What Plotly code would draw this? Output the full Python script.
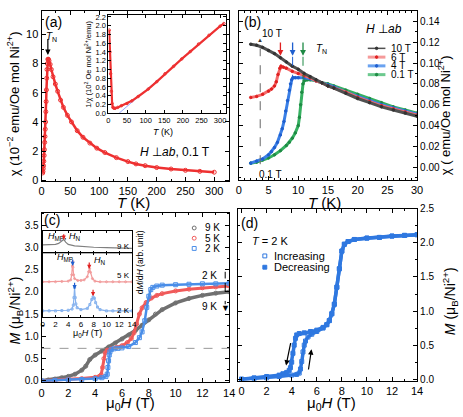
import plotly.graph_objects as go

W, H = 463, 417
def fx(p): return p / W
def fy(p): return 1 - p / H

FONT = "Liberation Sans, Arial, Helvetica, sans-serif"

# ---------------- (a) chi(T), H perp ab, 0.1 T ----------------
T_a = [2, 2.5, 3, 3.5, 4, 4.5, 5, 5.5, 6, 6.5, 7, 7.5, 8, 8.5, 9, 9.5, 10, 11, 12, 13,
       15, 17, 20, 24, 28, 33, 38, 45, 52, 62, 72, 84, 96, 110, 130, 150, 164, 180,
       200, 225, 250, 275, 300]
chi_a = [0.5, 0.6, 0.8, 1.0, 1.3, 1.7, 2.1, 2.6, 3.0, 3.5, 4.0, 4.7, 5.4, 6.2, 7.0, 7.6, 8.0, 8.3, 8.3, 8.2,
         7.95, 7.6, 7.1, 6.6, 6.1, 5.5, 5.0, 4.45, 4.0, 3.4, 2.95, 2.55, 2.2, 1.9, 1.55, 1.28, 1.12, 1.0,
         0.87, 0.77, 0.68, 0.61, 0.55]
# inset: 1/chi
T_inv = [2, 4, 6, 8, 10, 12, 15, 18, 25, 35, 50, 63, 80, 107, 130, 152, 175, 197, 220, 242, 270, 300, 310]
inv_chi = [1.9, 1.4, 0.9, 0.5, 0.22, 0.13, 0.11, 0.11, 0.13, 0.17, 0.22, 0.28, 0.38, 0.55, 0.72, 0.9,
           1.07, 1.24, 1.41, 1.58, 1.78, 1.99, 2.05]
T_fit = [29, 312]
inv_fit = [0.0, 2.07]

# ---------------- (b) chi(T) at several fields ----------------
T_10T = [2, 3, 4, 5, 6, 7, 8, 9, 10, 11, 12, 13, 14, 15, 16, 18, 20, 22, 24, 26, 28, 30]
chi_10T = [0.118, 0.117, 0.115, 0.112, 0.109, 0.105, 0.101, 0.097, 0.094, 0.090, 0.087, 0.084, 0.081,
           0.078, 0.076, 0.071, 0.066, 0.062, 0.058, 0.055, 0.052, 0.049]
T_6T = [2, 3, 4, 5, 5.5, 6, 6.3, 6.6, 6.9, 7.1, 7.5, 8, 9, 10, 11, 12, 13, 14, 15, 16, 18, 20, 22, 24, 26, 28, 30]
chi_6T = [0.067, 0.068, 0.070, 0.073, 0.075, 0.078, 0.082, 0.089, 0.095, 0.097, 0.096, 0.095, 0.092, 0.090,
          0.088, 0.086, 0.083, 0.081, 0.078, 0.076, 0.072, 0.067, 0.063, 0.059, 0.056, 0.053, 0.050]
T_4T = [2, 3, 4, 5, 5.5, 6, 6.5, 7, 7.3, 7.6, 7.9, 8.2, 8.5, 8.7, 8.9, 9.1, 9.5, 10, 11, 12, 13, 14, 15, 16,
        18, 20, 22, 24, 26, 28, 30]
chi_4T = [0.004, 0.006, 0.008, 0.012, 0.015, 0.019, 0.024, 0.031, 0.037, 0.044, 0.054, 0.064, 0.074, 0.080,
          0.084, 0.086, 0.086, 0.086, 0.086, 0.085, 0.083, 0.081, 0.079, 0.077, 0.072, 0.068, 0.064, 0.060,
          0.057, 0.054, 0.051]
T_01T = [2, 3, 4, 5, 6, 7, 8, 8.5, 9, 9.5, 10, 10.2, 10.4, 10.6, 10.8, 11, 11.5, 12, 13, 14, 15, 16, 18, 20,
         22, 24, 26, 28, 30]
chi_01T = [0.004, 0.005, 0.007, 0.009, 0.012, 0.016, 0.021, 0.024, 0.028, 0.033, 0.040, 0.048, 0.060, 0.072,
           0.080, 0.083, 0.084, 0.084, 0.083, 0.081, 0.080, 0.078, 0.074, 0.070, 0.066, 0.062, 0.058, 0.055,
           0.052]

# ---------------- (c) M(H) at 9, 5, 2 K ----------------
H_9K = [0, 0.5, 1, 1.5, 2, 2.5, 3, 3.3, 3.6, 4, 4.5, 5, 5.5, 6, 6.5, 7, 7.5, 8, 8.5, 9, 10, 11, 12, 13, 14]
M_9K = [0, 0.02, 0.04, 0.07, 0.1, 0.15, 0.24, 0.33, 0.48, 0.58, 0.67, 0.76, 0.85, 0.94, 1.03, 1.13, 1.25,
        1.37, 1.5, 1.6, 1.75, 1.85, 1.92, 1.97, 2.0]
H_5K = [0, 1, 2, 3, 4, 4.3, 4.45, 4.55, 4.65, 4.75, 4.9, 5.2, 5.6, 6.0, 6.4, 6.7, 6.9, 7.1, 7.3, 7.5, 7.8,
        8.2, 8.6, 9, 10, 11, 12, 13, 14]
M_5K = [0, 0.015, 0.03, 0.05, 0.08, 0.1, 0.14, 0.3, 0.5, 0.63, 0.69, 0.72, 0.75, 0.79, 0.86, 0.95, 1.08,
        1.28, 1.5, 1.64, 1.76, 1.86, 1.92, 1.96, 2.02, 2.06, 2.09, 2.11, 2.13]
H_2K = [0, 1, 2, 3, 4, 4.5, 4.8, 4.9, 4.95, 5.0, 5.05, 5.1, 5.2, 5.4, 5.7, 6.0, 6.5, 7.0, 7.3, 7.5, 7.7,
        7.85, 8.0, 8.15, 8.3, 8.6, 9, 10, 11, 12, 13, 14]
M_2K = [0, 0.01, 0.02, 0.03, 0.05, 0.07, 0.1, 0.15, 0.3, 0.45, 0.58, 0.65, 0.7, 0.72, 0.73, 0.74, 0.77,
        0.86, 0.97, 1.1, 1.35, 1.65, 1.9, 2.05, 2.1, 2.13, 2.15, 2.16, 2.17, 2.18, 2.18, 2.19]
M_plateau = 0.73

# inset of (c): dM/dH (arb. unit)
H_d9 = [0, 1, 2, 2.5, 3, 3.3, 3.6, 4, 5, 6, 8, 10, 12, 14]
dMdH_9K = [0.38, 0.38, 0.4, 0.44, 0.55, 0.62, 0.5, 0.4, 0.33, 0.3, 0.27, 0.25, 0.23, 0.22]
H_d5 = [0, 1, 2, 3, 4, 4.4, 4.55, 4.65, 4.7, 4.75, 4.85, 5.0, 5.5, 6, 6.5, 7.0, 7.2, 7.35, 7.5, 7.8, 8.2,
        9, 10, 11, 12, 13, 14]
dMdH_5K = [0.55, 0.55, 0.55, 0.555, 0.56, 0.58, 0.66, 0.8, 0.87, 0.78, 0.66, 0.6, 0.57, 0.57, 0.58, 0.63,
           0.71, 0.76, 0.7, 0.6, 0.56, 0.55, 0.55, 0.55, 0.55, 0.55, 0.55]
H_d2 = [0, 1, 2, 3, 4, 4.6, 4.8, 4.9, 5.0, 5.1, 5.2, 5.4, 6, 7, 7.4, 7.7, 7.9, 8.1, 8.3, 8.6, 9, 10, 11,
        12, 13, 14]
dMdH_2K = [0.09, 0.09, 0.09, 0.095, 0.1, 0.12, 0.18, 0.3, 0.46, 0.3, 0.2, 0.14, 0.11, 0.13, 0.19, 0.27,
           0.31, 0.29, 0.22, 0.15, 0.11, 0.09, 0.09, 0.09, 0.09, 0.09]

# ---------------- (d) M(H) at 2 K, increasing / decreasing ----------------
H_inc = [0, 1, 2, 3, 4, 4.4, 4.6, 4.7, 4.8, 4.9, 5.0, 5.1, 5.3, 5.6, 6.0, 6.5, 6.8, 7.0, 7.2, 7.4, 7.6,
         7.8, 8.0, 8.2, 8.5, 9, 10, 11, 12, 13, 14]
M_inc = [0, 0.01, 0.02, 0.04, 0.06, 0.07, 0.09, 0.15, 0.26, 0.4, 0.5, 0.56, 0.62, 0.66, 0.7, 0.75, 0.8,
         0.86, 0.96, 1.1, 1.35, 1.62, 1.88, 1.98, 2.02, 2.05, 2.07, 2.08, 2.1, 2.11, 2.12]
H_dec = [14, 13, 12, 11, 10, 9, 8.5, 8.2, 8.0, 7.8, 7.6, 7.4, 7.2, 7.0, 6.8, 6.5, 6.0, 5.5, 5.0, 4.6, 4.4,
         4.3, 4.2, 4.1, 4.0, 3.9, 3.8, 3.6, 3.3, 3, 2, 1, 0]
M_dec = [2.12, 2.11, 2.1, 2.08, 2.07, 2.05, 2.02, 1.98, 1.88, 1.62, 1.35, 1.1, 0.96, 0.86, 0.8, 0.76, 0.72,
         0.7, 0.68, 0.67, 0.65, 0.6, 0.5, 0.38, 0.25, 0.17, 0.13, 0.1, 0.08, 0.06, 0.04, 0.02, 0]

# ---------------- figure ----------------
fig = go.Figure()

def tr(x, y, xa, ya, color, width=2.5, symbol=None, msize=4, mcolor=None, mode="lines+markers", dash=None):
    kw = dict(x=x, y=y, xaxis=xa, yaxis=ya, mode=mode, showlegend=False, hoverinfo="skip")
    if "lines" in mode:
        kw["line"] = dict(color=color, width=width, dash=dash)
    if "markers" in mode:
        kw["marker"] = dict(symbol=symbol or "circle", size=msize, color=mcolor or color,
                            line=dict(width=1, color=mcolor or color))
    fig.add_trace(go.Scatter(**kw))

RED = "#ee3030"
tr(T_a, chi_a, "x", "y", RED, width=2.5, symbol="circle-open", msize=4)
tr(T_fit, inv_fit, "x2", "y2", "#8090ff", width=0.8, mode="lines")
tr(T_inv, inv_chi, "x2", "y2", RED, width=2.2, symbol="circle-open", msize=2.5)
tr(T_01T, chi_01T, "x3", "y3", "#35b060", width=3, symbol="circle", msize=2.5, mcolor="#1e8a44")
tr(T_4T, chi_4T, "x3", "y3", "#3a7fe6", width=3, symbol="circle", msize=2.5, mcolor="#1f5fcf")
tr(T_6T, chi_6T, "x3", "y3", "#f46a6a", width=3, symbol="circle", msize=2.5, mcolor="#e02020")
tr(T_10T, chi_10T, "x3", "y3", "#505050", width=3, symbol="circle", msize=2.5, mcolor="#333333")
tr(H_9K, M_9K, "x4", "y4", "#707070", width=3.5, symbol="circle-open", msize=4)
tr(H_5K, M_5K, "x4", "y4", "#f05a5a", width=3, symbol="circle-open", msize=4)
tr(H_2K, M_2K, "x4", "y4", "#4a8ee8", width=2.5, symbol="square-open", msize=4)
tr(H_d9, dMdH_9K, "x5", "y5", "#808080", width=1.2, mode="lines")
tr(H_d5, dMdH_5K, "x6", "y6", "#f29a9a", width=1.2, symbol="circle-open", msize=2)
tr(H_d2, dMdH_2K, "x6", "y6", "#86b2ee", width=1.2, symbol="square-open", msize=2)
tr(H_dec, M_dec, "x7", "y7", "#2f78e0", width=3.5, symbol="square", msize=4)
tr(H_inc, M_inc, "x7", "y7", "#2f78e0", width=3.5, symbol="square-open", msize=4)


def axis(domain, rng, dtick, anchor, minor=None, fmt=None, size=11, side=None, labels=True,
         ticks=True, ticklen=4):
    d = dict(domain=domain, range=rng, anchor=anchor, dtick=dtick, tick0=0, showline=True,
             linecolor="black", linewidth=1, mirror="ticks" if ticks else True,
             ticks="inside" if ticks else "", ticklen=ticklen, tickcolor="black", tickwidth=1,
             showgrid=False, zeroline=False, showticklabels=labels,
             tickfont=dict(size=size, color="black", family=FONT), fixedrange=True)
    if minor:
        d["minor"] = dict(dtick=minor, tick0=0, ticks="inside", ticklen=2, tickcolor="black",
                          showgrid=False)
    if fmt:
        d["tickformat"] = fmt
    if side:
        d["side"] = side
    return d

layout = dict(
    width=W, height=H, margin=dict(l=0, r=0, t=0, b=0),
    paper_bgcolor="white", plot_bgcolor="white", showlegend=False,
    font=dict(family=FONT, color="black"),
    xaxis=axis([fx(39.3), fx(230.7)], [0, 326], 50, "y", minor=25, size=11),
    yaxis=axis([fy(180), fy(5)], [-0.07, 11.62], 2, "x", minor=1, size=11),
    xaxis2=axis([fx(107.5), fx(227.5)], [0, 316], 50, "y2", size=7.5, ticklen=3),
    yaxis2=axis([fy(110), fy(9.5)], [0, 2.24], 0.2, "x2", fmt=".1f", size=7.5, ticklen=3),
    xaxis3=axis([fx(240.5), fx(422.3)], [0, 30], 5, "y3", minor=1, size=11),
    yaxis3=axis([fy(179), fy(5)], [-0.0124, 0.15], 0.02, "x3", minor=0.01, fmt=".2f", size=10,
                side="right"),
    xaxis4=axis([fx(39.3), fx(230.7)], [0, 14], 2, "y4", minor=1, size=11),
    yaxis4=axis([fy(386.5), fy(212.3)], [-0.033, 3.778], 0.5, "x4", minor=0.25, fmt=".1f", size=10),
    xaxis5=axis([fx(40.5), fx(131.5)], [0, 14], 2, "y5", labels=False, ticklen=2),
    yaxis5=axis([fy(254), fy(231)], [0, 1], 1, "x5", labels=False, ticks=False),
    xaxis6=axis([fx(40.5), fx(131.5)], [0, 14], 2, "y6", size=8, ticklen=2),
    yaxis6=axis([fy(319), fy(254)], [0, 1], 1, "x6", labels=False, ticks=False),
    xaxis7=axis([fx(239.3), fx(422.3)], [-0.31, 14], 2, "y7", minor=1, size=11),
    yaxis7=axis([fy(385), fy(208.3)], [-0.024, 2.5], 0.5, "x7", minor=0.25, fmt=".1f", size=10,
                side="right"),
)
fig.update_layout(**layout)

ann = []
def text(px, py, s, size=11, angle=0, xanchor="center", color="black"):
    ann.append(dict(x=fx(px), y=fy(py), xref="paper", yref="paper", text=s, showarrow=False,
                    xanchor=xanchor, yanchor="middle", textangle=angle,
                    font=dict(size=size, color=color, family=FONT)))

def arrow(x, y, axv, ayv, xref, yref, color="black", width=1.2, size=0.9, head=2):
    ann.append(dict(x=x, y=y, ax=axv, ay=ayv, xref=xref, yref=yref, axref=xref, ayref=yref,
                    text="", showarrow=True, arrowhead=head, arrowsize=size, arrowwidth=width,
                    arrowcolor=color))

def parrow(x, xref, py_head, length, color, width=1.2, size=0.7):
    ann.append(dict(x=x, y=fy(py_head), xref=xref, yref="paper", axref="pixel", ayref="pixel",
                    ax=0, ay=-length, text="", showarrow=True, arrowhead=2, arrowsize=size,
                    arrowwidth=width, arrowcolor=color))

shapes = []
def seg(x0, y0, x1, y1, xref, yref, color="black", width=1, dash=None):
    shapes.append(dict(type="line", x0=x0, y0=y0, x1=x1, y1=y1, xref=xref, yref=yref,
                       line=dict(color=color, width=width, dash=dash)))

def box(cx, cy, r, kind="rect", fill=None, color="black"):
    shapes.append(dict(type=kind, x0=fx(cx - r), x1=fx(cx + r), y0=fy(cy + r), y1=fy(cy - r),
                       xref="paper", yref="paper", line=dict(color=color, width=1),
                       fillcolor=fill if fill else "rgba(0,0,0,0)"))

# ---- (a) texts
text(51, 16, "(a)", 14)
text(49, 32, "<i>T</i><sub>N</sub>", 10)
arrow(11, 8.6, 11, 9.8, "x", "y")
text(175, 150, "<i>H</i> ⊥<i>ab</i>, 0.1 T", 12)
text(11, 100, "χ (10<sup>−2</sup> emu/Oe mol Ni<sup>2+</sup>)", 13, angle=-90)
text(133, 202, "<i>T</i> (K)", 15)
text(87, 60, "1/χ (10<sup>2</sup> Oe mol Ni<sup>2+</sup>/emu)", 7.5, angle=-90)
text(163, 129, "<i>T</i> (K)", 9)

# ---- (b) texts
text(254, 16, "(b)", 14)
text(389, 24, "<i>H</i> ⊥<i>ab</i>", 12)
text(274, 28.5, "10 T", 10)
text(262, 35, "▲", 6, color="#333333")
text(273, 173, "0.1 T", 10)
seg(3.6, 0.003, 3.6, 0.114, "x3", "y3", color="#666666", width=1, dash="dash")
arrow(7.0, 0.107, 7.0, 0.121, "x3", "y3", color="#e02020", width=1.3)
arrow(9.05, 0.107, 9.05, 0.121, "x3", "y3", color="#1f5fcf", width=1.3)
arrow(10.8, 0.107, 10.8, 0.121, "x3", "y3", color="#1e8a44", width=1.3)
seg(9.05, 0.106, 9.05, 0.086, "x3", "y3", color="#1f5fcf", width=1, dash="dash")
seg(10.8, 0.106, 10.8, 0.084, "x3", "y3", color="#1e8a44", width=1, dash="dash")
text(325, 44, "<i>T</i><sub>N</sub>", 10)
text(328, 202, "<i>T</i> (K)", 15)
text(450, 112, "χ ( emu/Oe mol Ni<sup>2+</sup>)", 13, angle=-90)
leg_b = [("10 T", "#505050", "#333333", 1.5), ("6 T", "#f59a9a", "#e02020", 3),
         ("4 T", "#6aa2f0", "#1f5fcf", 3), ("0.1 T", "#6cc98e", "#1e8a44", 3)]
for i, (lab, lc, mc, lw) in enumerate(leg_b):
    yy = 43.5 + i * 9
    seg(fx(372), fy(yy), fx(390), fy(yy), "paper", "paper", color=lc, width=lw)
    box(381, yy, 1.3, kind="circle", fill=mc, color=mc)
    text(394, yy, lab, 10, xanchor="left")

# ---- (c) texts
text(50, 220, "(c)", 14)
seg(0, M_plateau, 14, M_plateau, "x4", "y4", color="#999999", width=1, dash="dash")
text(211, 276.5, "2 K", 10)
text(211, 309, "9 K", 10)
seg(13.7, 2.3, 13.7, 2.45, "x4", "y4", color="black", width=1)
seg(13.7, 2.2, 13.7, 1.72, "x4", "y4", color="black", width=1, dash="dash")
text(226.5, 310, "▼", 9)
text(12, 313, "<i>M</i> (μ<sub>B</sub>/Ni<sup>2+</sup>)", 14, angle=-90)
text(130, 408, "μ<sub>0</sub><i>H</i> (T)", 15)
leg_c = [("9 K", "#707070", "circle"), ("5 K", "#f05a5a", "circle"), ("2 K", "#4a8ee8", "rect")]
for i, (lab, col, kind) in enumerate(leg_c):
    yy = 228 + i * 10.5
    box(195, yy, 2, kind=kind, color=col, fill=None)
    text(204, yy, lab, 10, xanchor="left")
text(140, 263, "d<i>M</i>/d<i>H</i> (arb. unit)", 8.5, angle=-90)
text(62, 237, "<i>H</i><sub>MP</sub>, <i>H</i><sub>N</sub>", 9)
parrow(3.3, "x5", 240, 7, "#e02020")
text(123, 247, "9 K", 8)
text(63, 258, "<i>H</i><sub>MP</sub>", 9)
text(99, 261, "<i>H</i><sub>N</sub>", 9)
parrow(4.7, "x6", 267, 8, "#1f5fcf")
parrow(7.3, "x6", 270, 8, "#e02020")
parrow(5.0, "x6", 291, 8, "#1f5fcf")
parrow(7.9, "x6", 298, 8, "#e02020")
text(123, 277, "5 K", 8)
text(123, 313, "2 K", 8)
text(86, 336, "μ<sub>0</sub><i>H</i> (T)", 9)

# ---- (d) texts
text(251, 223, "(d)", 14)
text(272, 241.5, "<i>T</i> = 2 K", 11)
box(267, 256.7, 2, kind="rect", color="#2f78e0")
text(274, 256.7, "Increasing", 11, xanchor="left")
box(267, 268.3, 2, kind="rect", color="#2f78e0", fill="#2f78e0")
text(274, 268.3, "Decreasing", 11, xanchor="left")
arrow(3.55, 0.2, 3.94, 0.55, "x7", "y7")
arrow(5.58, 0.44, 5.32, 0.12, "x7", "y7")
text(335, 408, "μ<sub>0</sub><i>H</i> (T)", 15)
text(456, 303, "<i>M</i> (μ<sub>B</sub>/Ni<sup>2+</sup>)", 14, angle=-90)

fig.update_layout(annotations=ann, shapes=shapes)
fig.write_html("out.html", config={"displayModeBar": False},
               post_script="document.body.style.margin='0px';document.body.style.overflow='hidden';")
